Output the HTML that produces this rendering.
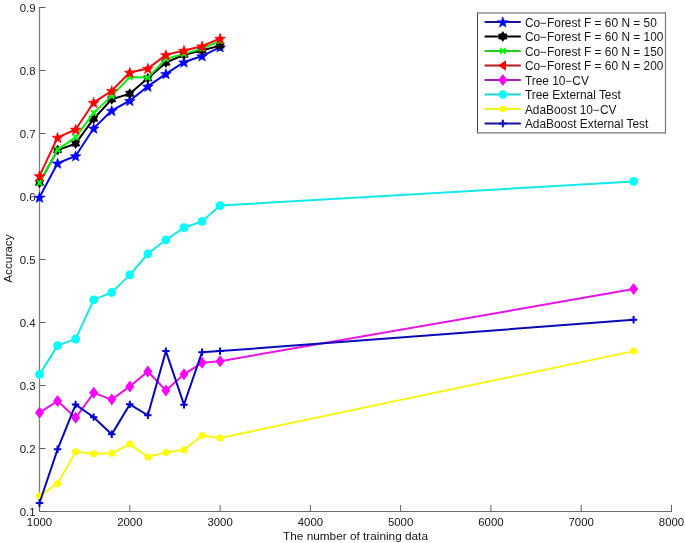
<!DOCTYPE html>
<html><head><meta charset="utf-8"><style>
html,body{margin:0;padding:0;background:#fff;width:685px;height:543px;overflow:hidden}
svg{display:block;will-change:transform}
text{font-family:"Liberation Sans",sans-serif;font-size:11.8px;fill:#161616}
.tk{font-size:11.4px}
.lt{font-size:11.9px}
</style></head><body>
<svg width="685" height="543" viewBox="0 0 685 543">
<rect width="685" height="543" fill="#fff"/>
<path d="M39.5,7 V511.5" fill="none" stroke="#7e7e7e" stroke-width="1.3"/>
<path d="M39,511.5 H672" fill="none" stroke="#6c6c6c" stroke-width="1"/>
<path d="M39.5,511.5 H45.5" stroke="#606060" stroke-width="1"/>
<text class="tk" x="35.6" y="515.8" text-anchor="end">0.1</text>
<path d="M39.5,448.5 H45.5" stroke="#606060" stroke-width="1"/>
<text class="tk" x="35.6" y="452.8" text-anchor="end">0.2</text>
<path d="M39.5,385.5 H45.5" stroke="#606060" stroke-width="1"/>
<text class="tk" x="35.6" y="389.8" text-anchor="end">0.3</text>
<path d="M39.5,322.5 H45.5" stroke="#606060" stroke-width="1"/>
<text class="tk" x="35.6" y="326.8" text-anchor="end">0.4</text>
<path d="M39.5,259.5 H45.5" stroke="#606060" stroke-width="1"/>
<text class="tk" x="35.6" y="263.8" text-anchor="end">0.5</text>
<path d="M39.5,196.5 H45.5" stroke="#606060" stroke-width="1"/>
<text class="tk" x="35.6" y="200.8" text-anchor="end">0.6</text>
<path d="M39.5,133.5 H45.5" stroke="#606060" stroke-width="1"/>
<text class="tk" x="35.6" y="137.8" text-anchor="end">0.7</text>
<path d="M39.5,70.5 H45.5" stroke="#606060" stroke-width="1"/>
<text class="tk" x="35.6" y="74.8" text-anchor="end">0.8</text>
<path d="M39.5,7.5 H45.5" stroke="#606060" stroke-width="1"/>
<text class="tk" x="35.6" y="11.8" text-anchor="end">0.9</text>
<path d="M39.5,511.5 V505" stroke="#606060" stroke-width="1"/>
<text class="tk" x="39.5" y="526.4" text-anchor="middle">1000</text>
<path d="M129.8,511.5 V505" stroke="#606060" stroke-width="1"/>
<text class="tk" x="129.8" y="526.4" text-anchor="middle">2000</text>
<path d="M220.1,511.5 V505" stroke="#606060" stroke-width="1"/>
<text class="tk" x="220.1" y="526.4" text-anchor="middle">3000</text>
<path d="M310.4,511.5 V505" stroke="#606060" stroke-width="1"/>
<text class="tk" x="310.4" y="526.4" text-anchor="middle">4000</text>
<path d="M400.6,511.5 V505" stroke="#606060" stroke-width="1"/>
<text class="tk" x="400.6" y="526.4" text-anchor="middle">5000</text>
<path d="M490.9,511.5 V505" stroke="#606060" stroke-width="1"/>
<text class="tk" x="490.9" y="526.4" text-anchor="middle">6000</text>
<path d="M581.2,511.5 V505" stroke="#606060" stroke-width="1"/>
<text class="tk" x="581.2" y="526.4" text-anchor="middle">7000</text>
<path d="M671.5,511.5 V505" stroke="#606060" stroke-width="1"/>
<text class="tk" x="671.5" y="526.4" text-anchor="middle">8000</text>
<text x="355.5" y="539.5" text-anchor="middle">The number of training data</text>
<text transform="translate(11.8,258.6) rotate(-90)" text-anchor="middle">Accuracy</text>
<polyline points="39.50,197.34 57.56,163.30 75.61,155.99 93.67,128.32 111.73,110.61 129.79,100.66 147.84,86.41 165.90,73.81 183.96,62.21 202.01,56.03 220.07,47.02" fill="none" stroke="#0505f0" stroke-width="2" stroke-linejoin="miter" stroke-miterlimit="3"/>
<polygon points="39.50,192.27 40.88,195.96 44.83,196.14 41.74,198.59 42.79,202.40 39.50,200.22 36.21,202.40 37.26,198.59 34.17,196.14 38.12,195.96" fill="#0000ff" stroke="#0000ff" stroke-width="0.6"/>
<polygon points="57.56,158.23 58.94,161.93 62.88,162.10 59.79,164.56 60.85,168.36 57.56,166.19 54.27,168.36 55.32,164.56 52.23,162.10 56.17,161.93" fill="#0000ff" stroke="#0000ff" stroke-width="0.6"/>
<polygon points="75.61,150.92 77.00,154.62 80.94,154.79 77.85,157.25 78.91,161.05 75.61,158.88 72.32,161.05 73.38,157.25 70.29,154.79 74.23,154.62" fill="#0000ff" stroke="#0000ff" stroke-width="0.6"/>
<polygon points="93.67,123.26 95.05,126.95 99.00,127.12 95.91,129.58 96.96,133.39 93.67,131.21 90.38,133.39 91.43,129.58 88.35,127.12 92.29,126.95" fill="#0000ff" stroke="#0000ff" stroke-width="0.6"/>
<polygon points="111.73,105.55 113.11,109.24 117.05,109.41 113.97,111.87 115.02,115.68 111.73,113.50 108.44,115.68 109.49,111.87 106.40,109.41 110.35,109.24" fill="#0000ff" stroke="#0000ff" stroke-width="0.6"/>
<polygon points="129.79,95.59 131.17,99.28 135.11,99.46 132.02,101.91 133.08,105.72 129.79,103.54 126.49,105.72 127.55,101.91 124.46,99.46 128.40,99.28" fill="#0000ff" stroke="#0000ff" stroke-width="0.6"/>
<polygon points="147.84,81.34 149.23,85.04 153.17,85.21 150.08,87.67 151.13,91.47 147.84,89.30 144.55,91.47 145.61,87.67 142.52,85.21 146.46,85.04" fill="#0000ff" stroke="#0000ff" stroke-width="0.6"/>
<polygon points="165.90,68.74 167.28,72.44 171.23,72.61 168.14,75.07 169.19,78.87 165.90,76.69 162.61,78.87 163.66,75.07 160.57,72.61 164.52,72.44" fill="#0000ff" stroke="#0000ff" stroke-width="0.6"/>
<polygon points="183.96,57.14 185.34,60.84 189.28,61.01 186.19,63.47 187.25,67.27 183.96,65.09 180.67,67.27 181.72,63.47 178.63,61.01 182.58,60.84" fill="#0000ff" stroke="#0000ff" stroke-width="0.6"/>
<polygon points="202.01,50.97 203.40,54.66 207.34,54.83 204.25,57.29 205.31,61.10 202.01,58.92 198.72,61.10 199.78,57.29 196.69,54.83 200.63,54.66" fill="#0000ff" stroke="#0000ff" stroke-width="0.6"/>
<polygon points="220.07,41.95 221.45,45.65 225.40,45.82 222.31,48.28 223.36,52.08 220.07,49.90 216.78,52.08 217.84,48.28 214.75,45.82 218.69,45.65" fill="#0000ff" stroke="#0000ff" stroke-width="0.6"/>
<polyline points="39.50,182.84 57.56,150.07 75.61,143.58 93.67,118.74 111.73,99.33 129.79,93.72 147.84,78.34 165.90,62.65 183.96,54.77 202.01,50.49 220.07,45.63" fill="none" stroke="#000000" stroke-width="2" stroke-linejoin="miter" stroke-miterlimit="3"/>
<polygon points="39.50,177.89 41.03,180.18 43.79,180.36 42.57,182.84 43.79,185.31 41.03,185.50 39.50,187.79 37.97,185.50 35.21,185.31 36.43,182.84 35.21,180.36 37.97,180.18" fill="#000000" stroke="#000000" stroke-width="0.6"/>
<polygon points="57.56,145.12 59.09,147.41 61.84,147.59 60.63,150.07 61.84,152.54 59.09,152.72 57.56,155.02 56.02,152.72 53.27,152.54 54.49,150.07 53.27,147.59 56.02,147.41" fill="#000000" stroke="#000000" stroke-width="0.6"/>
<polygon points="75.61,138.63 77.15,140.92 79.90,141.10 78.68,143.58 79.90,146.05 77.15,146.23 75.61,148.53 74.08,146.23 71.33,146.05 72.55,143.58 71.33,141.10 74.08,140.92" fill="#000000" stroke="#000000" stroke-width="0.6"/>
<polygon points="93.67,113.79 95.21,116.09 97.96,116.27 96.74,118.74 97.96,121.22 95.21,121.40 93.67,123.69 92.14,121.40 89.38,121.22 90.60,118.74 89.38,116.27 92.14,116.09" fill="#000000" stroke="#000000" stroke-width="0.6"/>
<polygon points="111.73,94.38 113.26,96.67 116.02,96.86 114.80,99.33 116.02,101.81 113.26,101.99 111.73,104.28 110.19,101.99 107.44,101.81 108.66,99.33 107.44,96.86 110.19,96.67" fill="#000000" stroke="#000000" stroke-width="0.6"/>
<polygon points="129.79,88.77 131.32,91.06 134.07,91.25 132.85,93.72 134.07,96.20 131.32,96.38 129.79,98.67 128.25,96.38 125.50,96.20 126.72,93.72 125.50,91.25 128.25,91.06" fill="#000000" stroke="#000000" stroke-width="0.6"/>
<polygon points="147.84,73.39 149.38,75.69 152.13,75.87 150.91,78.34 152.13,80.82 149.38,81.00 147.84,83.29 146.31,81.00 143.56,80.82 144.77,78.34 143.56,75.87 146.31,75.69" fill="#000000" stroke="#000000" stroke-width="0.6"/>
<polygon points="165.90,57.70 167.43,59.99 170.19,60.18 168.97,62.65 170.19,65.13 167.43,65.31 165.90,67.60 164.37,65.31 161.61,65.13 162.83,62.65 161.61,60.18 164.37,59.99" fill="#000000" stroke="#000000" stroke-width="0.6"/>
<polygon points="183.96,49.82 185.49,52.12 188.24,52.30 187.03,54.77 188.24,57.25 185.49,57.43 183.96,59.72 182.42,57.43 179.67,57.25 180.89,54.77 179.67,52.30 182.42,52.12" fill="#000000" stroke="#000000" stroke-width="0.6"/>
<polygon points="202.01,45.54 203.55,47.83 206.30,48.01 205.08,50.49 206.30,52.96 203.55,53.15 202.01,55.44 200.48,53.15 197.73,52.96 198.95,50.49 197.73,48.01 200.48,47.83" fill="#000000" stroke="#000000" stroke-width="0.6"/>
<polygon points="220.07,40.68 221.61,42.98 224.36,43.16 223.14,45.63 224.36,48.11 221.61,48.29 220.07,50.58 218.54,48.29 215.79,48.11 217.00,45.63 215.79,43.16 218.54,42.98" fill="#000000" stroke="#000000" stroke-width="0.6"/>
<polyline points="39.50,182.84 57.56,149.63 75.61,137.15 93.67,112.88 111.73,95.87 129.79,76.96 147.84,77.59 165.90,58.93 183.96,53.89 202.01,48.60 220.07,41.16" fill="none" stroke="#10ea10" stroke-width="2" stroke-linejoin="miter" stroke-miterlimit="3"/>
<path d="M36.80,180.14L42.20,185.54M36.80,185.54L42.20,180.14" stroke="#00ff00" stroke-width="2"/>
<path d="M54.86,146.93L60.26,152.33M54.86,152.33L60.26,146.93" stroke="#00ff00" stroke-width="2"/>
<path d="M72.91,134.45L78.31,139.85M72.91,139.85L78.31,134.45" stroke="#00ff00" stroke-width="2"/>
<path d="M90.97,110.18L96.37,115.58M90.97,115.58L96.37,110.18" stroke="#00ff00" stroke-width="2"/>
<path d="M109.03,93.17L114.43,98.57M109.03,98.57L114.43,93.17" stroke="#00ff00" stroke-width="2"/>
<path d="M127.09,74.26L132.49,79.66M127.09,79.66L132.49,74.26" stroke="#00ff00" stroke-width="2"/>
<path d="M145.14,74.89L150.54,80.29M145.14,80.29L150.54,74.89" stroke="#00ff00" stroke-width="2"/>
<path d="M163.20,56.23L168.60,61.63M163.20,61.63L168.60,56.23" stroke="#00ff00" stroke-width="2"/>
<path d="M181.26,51.19L186.66,56.59M181.26,56.59L186.66,51.19" stroke="#00ff00" stroke-width="2"/>
<path d="M199.31,45.90L204.71,51.30M199.31,51.30L204.71,45.90" stroke="#00ff00" stroke-width="2"/>
<path d="M217.37,38.46L222.77,43.86M217.37,43.86L222.77,38.46" stroke="#00ff00" stroke-width="2"/>
<polyline points="39.50,175.91 57.56,137.52 75.61,129.46 93.67,102.55 111.73,90.82 129.79,72.48 147.84,68.45 165.90,54.90 183.96,50.49 202.01,46.20 220.07,38.51" fill="none" stroke="#f00c0c" stroke-width="2" stroke-linejoin="miter" stroke-miterlimit="3"/>
<polygon points="39.50,170.75 40.91,174.51 44.92,174.69 41.78,177.19 42.85,181.06 39.50,178.84 36.15,181.06 37.22,177.19 34.08,174.69 38.09,174.51" fill="#ff0000" stroke="#ff0000" stroke-width="0.6"/>
<polygon points="57.56,132.37 58.96,136.13 62.98,136.30 59.83,138.81 60.91,142.68 57.56,140.46 54.21,142.68 55.28,138.81 52.14,136.30 56.15,136.13" fill="#ff0000" stroke="#ff0000" stroke-width="0.6"/>
<polygon points="75.61,124.30 77.02,128.06 81.04,128.24 77.89,130.74 78.96,134.61 75.61,132.39 72.26,134.61 73.34,130.74 70.19,128.24 74.21,128.06" fill="#ff0000" stroke="#ff0000" stroke-width="0.6"/>
<polygon points="93.67,97.39 95.08,101.15 99.09,101.33 95.95,103.83 97.02,107.70 93.67,105.48 90.32,107.70 91.39,103.83 88.25,101.33 92.26,101.15" fill="#ff0000" stroke="#ff0000" stroke-width="0.6"/>
<polygon points="111.73,85.66 113.14,89.43 117.15,89.60 114.01,92.10 115.08,95.98 111.73,93.76 108.38,95.98 109.45,92.10 106.31,89.60 110.32,89.43" fill="#ff0000" stroke="#ff0000" stroke-width="0.6"/>
<polygon points="129.79,67.32 131.19,71.09 135.21,71.26 132.06,73.76 133.14,77.64 129.79,75.42 126.44,77.64 127.51,73.76 124.36,71.26 128.38,71.09" fill="#ff0000" stroke="#ff0000" stroke-width="0.6"/>
<polygon points="147.84,63.29 149.25,67.05 153.26,67.23 150.12,69.73 151.19,73.60 147.84,71.38 144.49,73.60 145.57,69.73 142.42,67.23 146.44,67.05" fill="#ff0000" stroke="#ff0000" stroke-width="0.6"/>
<polygon points="165.90,49.74 167.31,53.50 171.32,53.68 168.18,56.18 169.25,60.05 165.90,57.83 162.55,60.05 163.62,56.18 160.48,53.68 164.49,53.50" fill="#ff0000" stroke="#ff0000" stroke-width="0.6"/>
<polygon points="183.96,45.33 185.36,49.09 189.38,49.27 186.23,51.77 187.31,55.64 183.96,53.42 180.61,55.64 181.68,51.77 178.54,49.27 182.55,49.09" fill="#ff0000" stroke="#ff0000" stroke-width="0.6"/>
<polygon points="202.01,41.04 203.42,44.81 207.44,44.98 204.29,47.48 205.37,51.35 202.01,49.14 198.66,51.35 199.74,47.48 196.59,44.98 200.61,44.81" fill="#ff0000" stroke="#ff0000" stroke-width="0.6"/>
<polygon points="220.07,33.35 221.48,37.12 225.49,37.29 222.35,39.79 223.42,43.67 220.07,41.45 216.72,43.67 217.80,39.79 214.65,37.29 218.66,37.12" fill="#ff0000" stroke="#ff0000" stroke-width="0.6"/>
<polyline points="39.50,412.69 57.56,400.97 75.61,417.73 93.67,392.84 111.73,399.58 129.79,386.41 147.84,371.47 165.90,390.44 183.96,374.37 202.01,362.84 220.07,361.20 633.58,289.10" fill="none" stroke="#e812e8" stroke-width="2" stroke-linejoin="miter" stroke-miterlimit="3"/>
<polygon points="39.50,406.69 44.00,412.69 39.50,418.69 35.00,412.69" fill="#ff00ff"/>
<polygon points="57.56,394.97 62.06,400.97 57.56,406.97 53.06,400.97" fill="#ff00ff"/>
<polygon points="75.61,411.73 80.11,417.73 75.61,423.73 71.11,417.73" fill="#ff00ff"/>
<polygon points="93.67,386.84 98.17,392.84 93.67,398.84 89.17,392.84" fill="#ff00ff"/>
<polygon points="111.73,393.58 116.23,399.58 111.73,405.58 107.23,399.58" fill="#ff00ff"/>
<polygon points="129.79,380.41 134.29,386.41 129.79,392.41 125.29,386.41" fill="#ff00ff"/>
<polygon points="147.84,365.47 152.34,371.47 147.84,377.47 143.34,371.47" fill="#ff00ff"/>
<polygon points="165.90,384.44 170.40,390.44 165.90,396.44 161.40,390.44" fill="#ff00ff"/>
<polygon points="183.96,368.37 188.46,374.37 183.96,380.37 179.46,374.37" fill="#ff00ff"/>
<polygon points="202.01,356.84 206.51,362.84 202.01,368.84 197.51,362.84" fill="#ff00ff"/>
<polygon points="220.07,355.20 224.57,361.20 220.07,367.20 215.57,361.20" fill="#ff00ff"/>
<polygon points="633.58,283.10 638.08,289.10 633.58,295.10 629.08,289.10" fill="#ff00ff"/>
<polyline points="39.50,374.37 57.56,345.63 75.61,339.02 93.67,299.94 111.73,292.50 129.79,274.86 147.84,253.81 165.90,239.81 183.96,227.71 202.01,221.41 220.07,205.59 633.58,181.45" fill="none" stroke="#14e8e8" stroke-width="2" stroke-linejoin="miter" stroke-miterlimit="3"/>
<circle cx="39.50" cy="374.37" r="4.4" fill="#00ffff"/>
<circle cx="57.56" cy="345.63" r="4.4" fill="#00ffff"/>
<circle cx="75.61" cy="339.02" r="4.4" fill="#00ffff"/>
<circle cx="93.67" cy="299.94" r="4.4" fill="#00ffff"/>
<circle cx="111.73" cy="292.50" r="4.4" fill="#00ffff"/>
<circle cx="129.79" cy="274.86" r="4.4" fill="#00ffff"/>
<circle cx="147.84" cy="253.81" r="4.4" fill="#00ffff"/>
<circle cx="165.90" cy="239.81" r="4.4" fill="#00ffff"/>
<circle cx="183.96" cy="227.71" r="4.4" fill="#00ffff"/>
<circle cx="202.01" cy="221.41" r="4.4" fill="#00ffff"/>
<circle cx="220.07" cy="205.59" r="4.4" fill="#00ffff"/>
<circle cx="633.58" cy="181.45" r="4.4" fill="#00ffff"/>
<polyline points="39.50,495.88 57.56,483.66 75.61,451.77 93.67,453.85 111.73,453.28 129.79,444.08 147.84,457.00 165.90,452.40 183.96,449.88 202.01,435.44 220.07,437.96 633.58,351.12" fill="none" stroke="#f6f614" stroke-width="2" stroke-linejoin="miter" stroke-miterlimit="3"/>
<circle cx="39.50" cy="495.88" r="3.5" fill="#ffff00"/>
<circle cx="57.56" cy="483.66" r="3.5" fill="#ffff00"/>
<circle cx="75.61" cy="451.77" r="3.5" fill="#ffff00"/>
<circle cx="93.67" cy="453.85" r="3.5" fill="#ffff00"/>
<circle cx="111.73" cy="453.28" r="3.5" fill="#ffff00"/>
<circle cx="129.79" cy="444.08" r="3.5" fill="#ffff00"/>
<circle cx="147.84" cy="457.00" r="3.5" fill="#ffff00"/>
<circle cx="165.90" cy="452.40" r="3.5" fill="#ffff00"/>
<circle cx="183.96" cy="449.88" r="3.5" fill="#ffff00"/>
<circle cx="202.01" cy="435.44" r="3.5" fill="#ffff00"/>
<circle cx="220.07" cy="437.96" r="3.5" fill="#ffff00"/>
<circle cx="633.58" cy="351.12" r="3.5" fill="#ffff00"/>
<polyline points="39.50,503.01 57.56,449.31 75.61,404.56 93.67,417.17 111.73,434.31 129.79,404.37 147.84,415.28 165.90,351.12 183.96,404.69 202.01,352.25 220.07,351.12 633.58,319.79" fill="none" stroke="#0a0ab8" stroke-width="2" stroke-linejoin="miter" stroke-miterlimit="3"/>
<path d="M35.80,503.01H43.20M39.50,499.31V506.71" stroke="#0000cc" stroke-width="2"/>
<path d="M53.86,449.31H61.26M57.56,445.61V453.01" stroke="#0000cc" stroke-width="2"/>
<path d="M71.91,404.56H79.31M75.61,400.86V408.26" stroke="#0000cc" stroke-width="2"/>
<path d="M89.97,417.17H97.37M93.67,413.47V420.87" stroke="#0000cc" stroke-width="2"/>
<path d="M108.03,434.31H115.43M111.73,430.61V438.01" stroke="#0000cc" stroke-width="2"/>
<path d="M126.09,404.37H133.49M129.79,400.67V408.07" stroke="#0000cc" stroke-width="2"/>
<path d="M144.14,415.28H151.54M147.84,411.58V418.98" stroke="#0000cc" stroke-width="2"/>
<path d="M162.20,351.12H169.60M165.90,347.42V354.82" stroke="#0000cc" stroke-width="2"/>
<path d="M180.26,404.69H187.66M183.96,400.99V408.39" stroke="#0000cc" stroke-width="2"/>
<path d="M198.31,352.25H205.71M202.01,348.55V355.95" stroke="#0000cc" stroke-width="2"/>
<path d="M216.37,351.12H223.77M220.07,347.42V354.82" stroke="#0000cc" stroke-width="2"/>
<path d="M629.88,319.79H637.28M633.58,316.09V323.49" stroke="#0000cc" stroke-width="2"/>
<rect x="477" y="12.5" width="189" height="120.8" fill="#fff"/>
<path d="M477.5,12.5 V133.3" stroke="#4a4a4a" stroke-width="1"/>
<path d="M477,13 H666" stroke="#5a5a5a" stroke-width="1"/>
<path d="M665.5,12.5 V133.3" stroke="#777" stroke-width="1.2"/>
<path d="M477,132.8 H666" stroke="#777" stroke-width="1.2"/>
<path d="M484.6,22.00 H520.8" stroke="#141496" stroke-width="2"/>
<polygon points="502.80,16.93 504.18,20.63 508.13,20.80 505.04,23.26 506.09,27.06 502.80,24.88 499.51,27.06 500.56,23.26 497.47,20.80 501.42,20.63" fill="#0000ff" stroke="#0000ff" stroke-width="0.6"/>
<text class="lt" x="524.9" y="26.60">Co−Forest F = 60 N = 50</text>
<path d="M484.6,36.50 H520.8" stroke="#000" stroke-width="2"/>
<polygon points="502.80,31.55 504.33,33.84 507.09,34.02 505.87,36.50 507.09,38.98 504.33,39.16 502.80,41.45 501.27,39.16 498.51,38.98 499.73,36.50 498.51,34.02 501.27,33.84" fill="#000000" stroke="#000000" stroke-width="0.6"/>
<text class="lt" x="524.9" y="41.10">Co−Forest F = 60 N = 100</text>
<path d="M484.6,51.00 H520.8" stroke="#1ed21e" stroke-width="2"/>
<path d="M500.10,48.30L505.50,53.70M500.10,53.70L505.50,48.30" stroke="#00ff00" stroke-width="2"/>
<text class="lt" x="524.9" y="55.60">Co−Forest F = 60 N = 150</text>
<path d="M484.6,65.50 H520.8" stroke="#bc1616" stroke-width="2"/>
<polygon points="498.00,65.50 506.00,60.30 506.00,70.70" fill="#ff0000"/>
<text class="lt" x="524.9" y="70.10">Co−Forest F = 60 N = 200</text>
<path d="M484.6,80.00 H520.8" stroke="#a81eb4" stroke-width="2"/>
<polygon points="502.80,74.00 507.30,80.00 502.80,86.00 498.30,80.00" fill="#ff00ff"/>
<text class="lt" x="524.9" y="84.60">Tree 10−CV</text>
<path d="M484.6,94.50 H520.8" stroke="#1ed2d2" stroke-width="2"/>
<circle cx="502.80" cy="94.50" r="4.2" fill="#00ffff"/>
<text class="lt" x="524.9" y="99.10">Tree External Test</text>
<path d="M484.6,109.00 H520.8" stroke="#f0f01e" stroke-width="2"/>
<circle cx="502.80" cy="109.00" r="3.2" fill="#ffff00"/>
<text class="lt" x="524.9" y="113.60">AdaBoost 10−CV</text>
<path d="M484.6,123.50 H520.8" stroke="#1414a0" stroke-width="2"/>
<path d="M499.10,123.50H506.50M502.80,119.80V127.20" stroke="#0000cc" stroke-width="2"/>
<text class="lt" x="524.9" y="128.10">AdaBoost External Test</text>
</svg>
</body></html>
